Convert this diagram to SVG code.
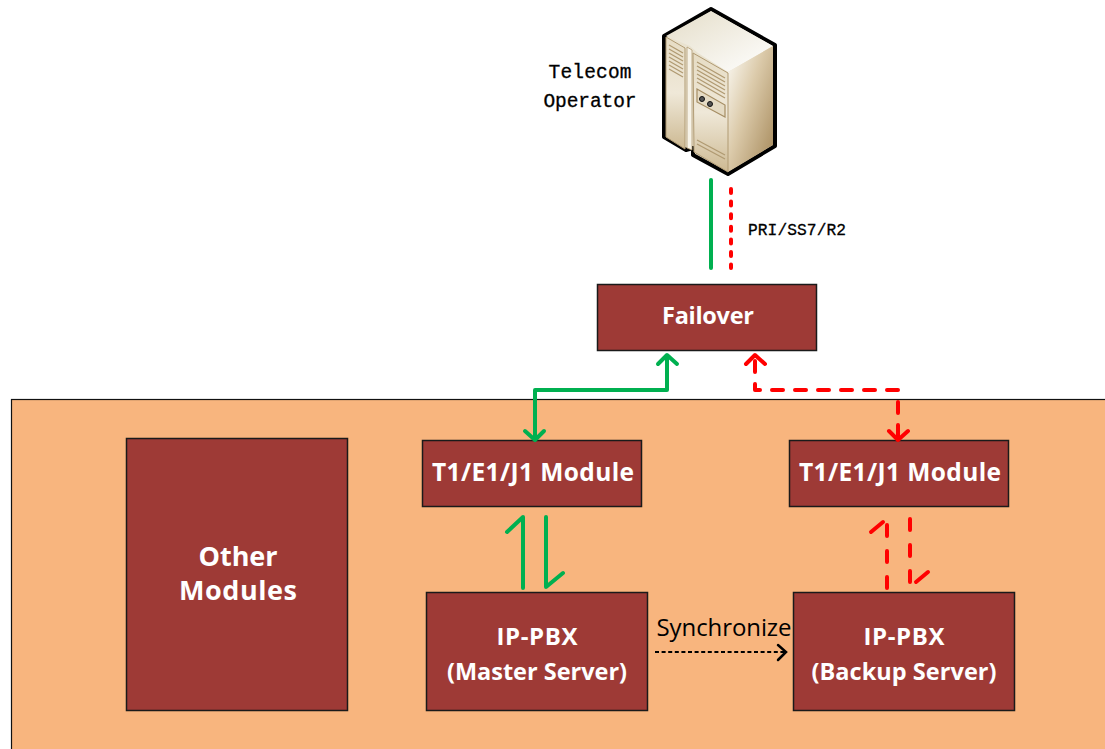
<svg xmlns="http://www.w3.org/2000/svg" width="1105" height="749" viewBox="0 0 1105 749">
<defs>
<linearGradient id="front" x1="0" y1="0" x2="0" y2="1"><stop offset="0" stop-color="#e6dcc4"/><stop offset="0.5" stop-color="#efe8d8"/><stop offset="1" stop-color="#cdb992"/></linearGradient>
<linearGradient id="side" x1="0" y1="0" x2="1" y2="0.9"><stop offset="0" stop-color="#fdfcf7"/><stop offset="0.45" stop-color="#dccbab"/><stop offset="1" stop-color="#a98d5f"/></linearGradient>
<linearGradient id="top" x1="0" y1="0" x2="1" y2="1"><stop offset="0" stop-color="#e4ddc8"/><stop offset="1" stop-color="#ffffff"/></linearGradient>
</defs>
<style>
.box{fill:#9e3a36;stroke:#1a1a1a;stroke-width:1.500}
.t{fill:#fff;font-family:"Open Sans","Noto Sans",sans-serif;font-weight:700;text-anchor:middle}
.m{fill:#000;font-family:"Liberation Mono","DejaVu Sans Mono",monospace;stroke:#000;stroke-width:0.300}
.c{fill:none;stroke-linecap:round;stroke-linejoin:round;stroke-width:4}
.g{stroke:#00b050}
.r{stroke:#ff0000}
.grill{stroke:#b09a72;stroke-width:1.300;fill:none}
</style>
<rect id="background" x="11.500" y="399.500" width="1100" height="360" fill="#f8b57e" stroke="#111" stroke-width="1.200"/>
<g id="telecom-operator">
<path d="M711 9 L775 45 L775 146 L728 174 L693 155 L693 148 L686 150 L664 137 L664 36 Z" fill="#e9e2cf" stroke="#000" stroke-width="4" stroke-linejoin="round"/>
<path d="M711 11 L773 46 L728 72 L698 53 L690 46 L666 36 Z" fill="url(#top)"/>
<path d="M728 72 L773 46 L773 145 L728 172 Z" fill="url(#side)"/>
<path d="M666 37 L685 48 L685 149 L666 137 Z" fill="url(#front)" stroke="#b09a72"/>
<path d="M693 53 L728 73 L728 172 L694 152 Z" fill="url(#front)" stroke="#b09a72"/>
<path d="M687 47 L692 50 L692 150 L687 148 Z" fill="#f7f3e8" stroke="#b09a72" stroke-width="0.800"/>
<path class="grill" d="M669 45 L683 53 M669 49 L683 57 M669 53 L683 61 M669 57 L683 65 M669 61 L683 69 M669 65 L683 73 M669 69 L683 77"/>
<path class="grill" d="M697 62 L725 78 M697 66 L725 82 M697 70 L725 86 M697 74 L725 90 M697 78 L725 94 M697 82 L725 98"/>
<path d="M697 89 L725 105 L725 117 L697 102 Z" fill="#e5dbc4" stroke="#a58d63" stroke-width="1.200"/>
<circle cx="702" cy="99" r="2.500" fill="#555" stroke="#111"/>
<circle cx="710" cy="104" r="2.500" fill="#555" stroke="#111"/>
<path class="grill" d="M697 140 L725 155 M697 144 L725 159"/>
</g>
<text class="m" x="590" y="78" font-size="19.500" text-anchor="middle" textLength="83">Telecom</text>
<text class="m" x="590" y="107" font-size="19.500" text-anchor="middle" textLength="93">Operator</text>
<text class="m" x="748" y="235" font-size="16.200" textLength="98">PRI/SS7/R2</text>
<g id="failover"><rect class="box" x="597.500" y="284.500" width="219" height="66"/><text class="t" x="708" y="324" font-size="23.500" textLength="92">Failover</text></g>
<g id="other-modules"><rect class="box" x="126.500" y="438.500" width="221" height="272"/><text class="t" x="238" y="566" font-size="27" textLength="79">Other</text><text class="t" x="238" y="600" font-size="27" textLength="118">Modules</text></g>
<g id="t1-master"><rect class="box" x="422.500" y="440.500" width="219" height="66"/><text class="t" x="533" y="481" font-size="24.500" textLength="202">T1/E1/J1 Module</text></g>
<g id="t1-backup"><rect class="box" x="789.500" y="440.500" width="219" height="66"/><text class="t" x="900" y="481" font-size="24.500" textLength="202">T1/E1/J1 Module</text></g>
<g id="master-server"><rect class="box" x="426.500" y="592.500" width="221" height="118"/><text class="t" x="537" y="645" font-size="24" textLength="81">IP-PBX</text><text class="t" x="537" y="680" font-size="23.500" textLength="180">(Master Server)</text></g>
<g id="backup-server"><rect class="box" x="793.500" y="592.500" width="221" height="118"/><text class="t" x="904" y="645" font-size="24" textLength="81">IP-PBX</text><text class="t" x="904" y="680" font-size="23.500" textLength="185">(Backup Server)</text></g>
<text x="724" y="636" font-size="24" text-anchor="middle" textLength="135" font-family="'Open Sans','Noto Sans',sans-serif" fill="#000">Synchronize</text>
<g id="connectors">
<path class="c g" d="M711 180 V268"/>
<path class="c r" stroke-dasharray="4 8.600" d="M731 189 V268"/>
<path class="c g" d="M535 440 V390 H667 V356 M525 431 L535 440 L544 431 M658 364 L667 355 L677 364"/>
<path class="c r" stroke-dasharray="11 12" stroke-dashoffset="18" d="M755 356 V390 H898 V440"/>
<path class="c r" d="M746 364 L755 355 L765 364 M889 431 L898 440 L908 431"/>
<path class="c g" d="M523 588 V517 L507 532 M546 517 V587 L563 573"/>
<path class="c r" stroke-dasharray="11 15" d="M887 588 V522"/>
<path class="c r" d="M883 522 L871 532"/>
<path class="c r" stroke-dasharray="11 15" d="M910 519 V584"/>
<path class="c r" d="M916 582 L928 572"/>
<path fill="none" stroke="#000" stroke-width="2.200" stroke-dasharray="4 2.600" d="M655 652 H785"/>
<path fill="none" stroke="#000" stroke-width="2.500" stroke-linecap="round" d="M778 645 L786 652 L778 660"/>
</g>
</svg>
